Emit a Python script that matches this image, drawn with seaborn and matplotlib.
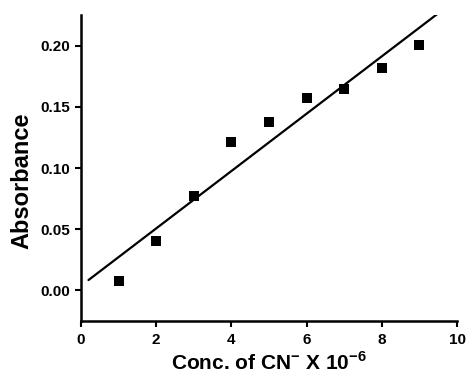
import numpy as np
import pandas as pd
import matplotlib
matplotlib.use("Agg")
import matplotlib.pyplot as plt
import seaborn as sns
from matplotlib.ticker import FormatStrFormatter

conc = [1, 2, 3, 4, 5, 6, 7, 8, 9]
absorbance = [0.0076, 0.0406, 0.0773, 0.121, 0.138, 0.157, 0.1645, 0.182, 0.2005]
x_ticks = [0, 2, 4, 6, 8, 10]
y_ticks = [0.00, 0.05, 0.10, 0.15, 0.20]

sns.set_theme(style="ticks")
plt.rcParams['font.family'] = ['Liberation Sans', 'DejaVu Sans']
plt.rcParams['mathtext.fontset'] = 'custom'
plt.rcParams['mathtext.rm'] = 'Liberation Sans'
plt.rcParams['mathtext.bf'] = 'Liberation Sans:bold'

df = pd.DataFrame({"conc": conc, "abs": absorbance})
slope, intercept = np.polyfit(df["conc"], df["abs"], 1)
fit_x = np.array([0.2, 9.8])
fit_df = pd.DataFrame({"x": fit_x, "y": slope * fit_x + intercept})

fig = plt.figure(figsize=(4.68, 3.76), dpi=100)
ax = fig.add_axes([0.173, 0.1463, 0.8035, 0.8137])

sns.lineplot(data=fit_df, x="x", y="y", color="black", linewidth=1.6, ax=ax)
sns.scatterplot(data=df, x="conc", y="abs", marker="s", s=48, color="black",
                edgecolor="black", linewidth=0, ax=ax, zorder=3)

ax.set_xlim(0, 10)
ax.set_ylim(-0.025, 0.225)
ax.set_xticks(x_ticks)
ax.set_yticks(y_ticks)
ax.yaxis.set_major_formatter(FormatStrFormatter('%.2f'))

for s in ["top", "right"]:
    ax.spines[s].set_visible(False)
for s in ["left", "bottom"]:
    ax.spines[s].set_linewidth(1.8)
    ax.spines[s].set_color("black")
ax.tick_params(axis="both", direction="out", length=4, width=1.5, colors="black",
               labelsize=11, pad=4)
ax.tick_params(axis="x", pad=5)
for lab in ax.get_xticklabels() + ax.get_yticklabels():
    lab.set_fontweight("bold")

ax.set_xlabel(r"Conc. of CN$^{\mathbf{-}}$ X 10$^{\mathbf{-6}}$", fontsize=15,
              fontweight="bold", color="black")
ax.set_ylabel("Absorbance", fontsize=17, fontweight="bold", color="black")
ax.xaxis.set_label_coords(0.5, -0.1)
ax.yaxis.set_label_coords(-0.127, 0.4575)

fig.savefig("out.png", dpi=100)
